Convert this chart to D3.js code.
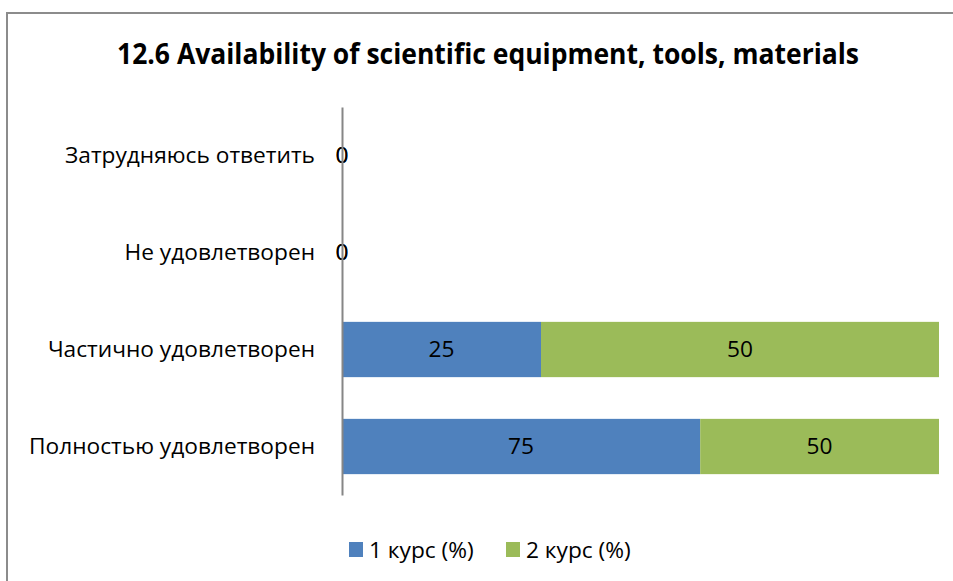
<!DOCTYPE html>
<html><head><meta charset="utf-8">
<script src="https://cdn.jsdelivr.net/npm/d3@7"></script>
<style>html,body{margin:0;padding:0;background:#fff;}svg{display:block;}</style>
</head><body>
<svg id="c" width="953" height="581"></svg>
<script>
const categories = ["Полностью удовлетворен", "Частично удовлетворен", "Не удовлетворен", "Затрудняюсь ответить"];
const seriesNames = ["1 курс (%)", "2 курс (%)"];
const series1 = [75, 25, 0, 0];
const series2 = [50, 50, 0, 0];
const colors = ["#4f81bd", "#9bbb59"];
const title = "12.6 Availability of scientific equipment, tools, materials";

const svg = d3.select("#c");
const font = "'Open Sans', 'Noto Sans', sans-serif";
const fs = 22.7;

// frame
svg.append("rect").attr("x", 7).attr("y", 13).attr("width", 1000).attr("height", 700)
  .attr("fill", "#fff").attr("stroke", "#8c8c8c").attr("stroke-width", 2);

svg.append("text").attr("x", 488).attr("y", 64).attr("text-anchor", "middle")
  .attr("font-family", font).attr("font-weight", "bold").attr("font-size", 28)
  .attr("textLength", 742).attr("lengthAdjust", "spacingAndGlyphs")
  .attr("fill", "#000").text(title);

const data = categories.map((c, i) => ({cat: c, v: [series1[i], series2[i]]}));
const x = d3.scaleLinear().domain([0, 1]).range([342, 939]);
const y = d3.scaleBand().domain(categories.slice().reverse()).range([107, 495])
  .paddingInner(0.43).paddingOuter(0.215);

data.forEach(d => {
  const total = d3.sum(d.v);
  let acc = 0;
  d.v.forEach((v, j) => {
    const f0 = total ? acc / total : 0;
    const f1 = total ? (acc + v) / total : 0;
    acc += v;
    if (v > 0) {
      svg.append("rect").attr("x", x(f0)).attr("y", y(d.cat))
        .attr("width", x(f1) - x(f0)).attr("height", y.bandwidth())
        .attr("fill", colors[j]);
    }
    svg.append("text").attr("x", (x(f0) + x(f1)) / 2).attr("y", y(d.cat) + y.bandwidth() / 2)
      .attr("dy", "0.35em").attr("text-anchor", "middle")
      .attr("font-family", font).attr("font-size", fs).attr("fill", "#000").text(v);
  });
});

// category axis
const ax = svg.append("g").attr("transform", "translate(342,0)")
  .call(d3.axisLeft(y).tickSize(0).tickPadding(27));
ax.select(".domain").attr("stroke", "#868686").attr("stroke-width", 2);
ax.selectAll("text").attr("font-family", font).attr("font-size", fs).attr("fill", "#000");

// legend
const leg = [{x: 349, tx: 369}, {x: 506, tx: 526}];
seriesNames.forEach((n, i) => {
  svg.append("rect").attr("x", leg[i].x).attr("y", 542).attr("width", 14).attr("height", 15).attr("fill", colors[i]);
  svg.append("text").attr("x", leg[i].tx).attr("y", 550).attr("dy", "0.35em")
    .attr("font-family", font).attr("font-size", fs).attr("fill", "#000").text(n);
});
</script>
</body></html>
